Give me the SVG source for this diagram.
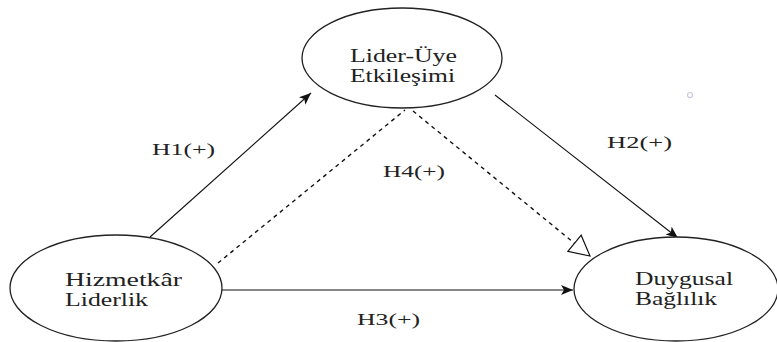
<svg xmlns="http://www.w3.org/2000/svg" width="777" height="342" viewBox="0 0 777 342">
<style>
.node ellipse{fill:#fff;stroke:#222;stroke-width:1.3}
.t{font-family:"Liberation Serif","Times New Roman",serif;font-size:18px;fill:#222}
.lbl{font-family:"Liberation Serif","Times New Roman",serif;font-size:17px;fill:#222}
.c{stroke:#111;stroke-width:1.1;fill:none}
.d{stroke-dasharray:4,4;stroke-width:1.4}
</style>
<defs>
<marker id="ah" markerUnits="userSpaceOnUse" markerWidth="14" markerHeight="12" refX="12" refY="5" orient="auto">
<path d="M0,0 L12,5 L0,10 L3,5 z" fill="#111"/>
</marker>
<marker id="hol" markerUnits="userSpaceOnUse" markerWidth="24" markerHeight="26" refX="21" refY="12" orient="auto">
<path d="M1,1.5 L21,12 L1,22.5 z" fill="#fff" stroke="#111" stroke-width="1.2"/>
</marker>
</defs>
<rect width="777" height="342" fill="#fff"/>
<g id="connectors">
<line class="c" x1="150" y1="237" x2="311" y2="93" marker-end="url(#ah)"/>
<line class="c" x1="495" y1="95" x2="678" y2="238" marker-end="url(#ah)"/>
<line class="c" x1="222" y1="290" x2="573" y2="290" marker-end="url(#ah)"/>
<line class="c d" x1="413" y1="111" x2="590" y2="256" marker-end="url(#hol)"/>
<line class="c d" x1="218" y1="263" x2="405" y2="110"/>
</g>
<g id="lider-uye" class="node">
<ellipse cx="402" cy="58" rx="100" ry="50"/>
<text class="t" x="350" y="62" textLength="107" lengthAdjust="spacingAndGlyphs">Lider-Üye</text>
<text class="t" x="350" y="82" textLength="105" lengthAdjust="spacingAndGlyphs">Etkileşimi</text>
</g>
<g id="hizmetkar" class="node">
<ellipse cx="116" cy="288" rx="106" ry="53"/>
<text class="t" x="65" y="286" textLength="117" lengthAdjust="spacingAndGlyphs">Hizmetkâr</text>
<text class="t" x="65" y="306" textLength="83" lengthAdjust="spacingAndGlyphs">Liderlik</text>
</g>
<g id="duygusal" class="node">
<ellipse cx="676" cy="289" rx="102" ry="52"/>
<text class="t" x="635" y="285" textLength="98" lengthAdjust="spacingAndGlyphs">Duygusal</text>
<text class="t" x="635" y="305" textLength="82" lengthAdjust="spacingAndGlyphs">Bağlılık</text>
</g>
<g id="labels">
<text class="lbl" x="152" y="155" textLength="63" lengthAdjust="spacingAndGlyphs">H1(+)</text>
<text class="lbl" x="607" y="148" textLength="65" lengthAdjust="spacingAndGlyphs">H2(+)</text>
<text class="lbl" x="383" y="177" textLength="62" lengthAdjust="spacingAndGlyphs">H4(+)</text>
<text class="lbl" x="357" y="325" textLength="63" lengthAdjust="spacingAndGlyphs">H3(+)</text>
</g>
<circle cx="690" cy="95" r="2.5" fill="none" stroke="#c8c8e0" stroke-width="1.2"/>
</svg>
